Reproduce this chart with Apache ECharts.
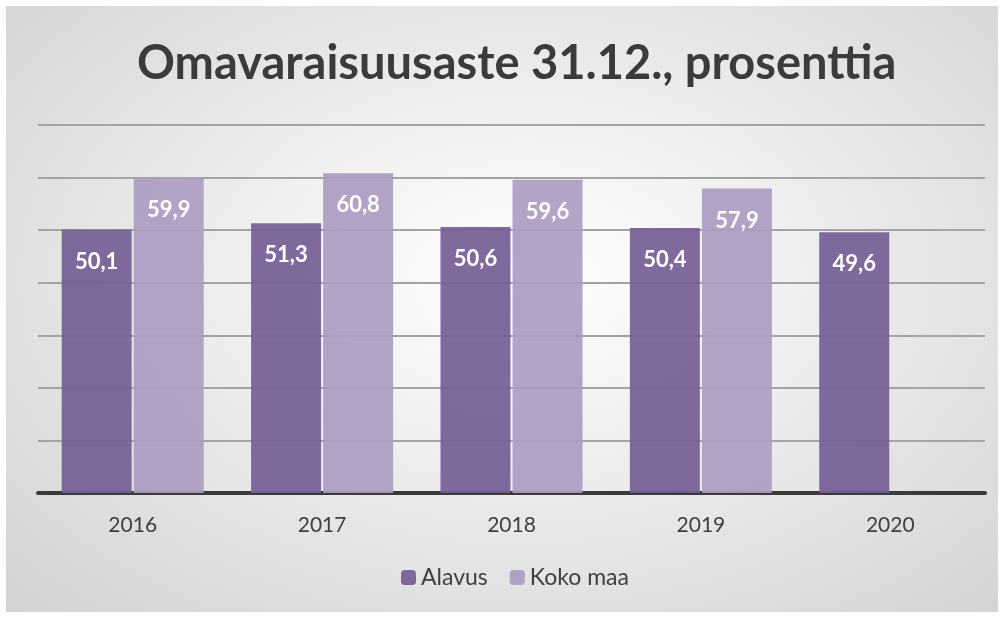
<!DOCTYPE html>
<html>
<head>
<meta charset="utf-8">
<script src="https://cdn.jsdelivr.net/npm/echarts@6/dist/echarts.min.js"></script>
<style>
  html, body { margin: 0; padding: 0; background: #fff; }
  .frame {
    position: absolute; left: 6px; top: 6px; width: 992px; height: 606px;
    background: radial-gradient(ellipse at 52% 45%, #ffffff 0%, #eeeeee 40%, #d2d2d2 100%);
  }
  #chart { position: absolute; left: 0; top: 0; width: 1004px; height: 618px; }
</style>
</head>
<body>
<div class="frame"></div>
<div id="chart"></div>
<script>
// vuodet ja arvot
const years = ["2016", "2017", "2018", "2019", "2020"];
const alavus = [50.1, 51.3, 50.6, 50.4, 49.6];
const kokoMaa = [59.9, 60.8, 59.6, 57.9, null];

const chart = echarts.init(document.getElementById("chart"));

const label = {
  show: true,
  position: "insideTop",
  distance: 21,
  color: "#fff",
  fontFamily: "Lato",
  fontWeight: "bold",
  fontSize: 22,
  formatter: p => String(p.value).replace(".", ",")
};

const option = {
  animation: false,
  title: {
    text: "Omavaraisuusaste 31.12., prosenttia",
    left: 132,
    top: 35,
    textStyle: { fontFamily: "Lato", fontWeight: "bold", fontSize: 47, color: "#3b3b3b" }
  },
  legend: {
    data: ["Alavus", "Koko maa"],
    bottom: 24,
    left: 396,
    itemWidth: 15,
    itemHeight: 15,
    itemGap: 22,
    textStyle: { fontFamily: "Lato", fontSize: 23, color: "#404040" }
  },
  grid: { left: 38, right: 19, top: 125, bottom: 125 },
  xAxis: {
    type: "category",
    data: years,
    axisTick: { show: false },
    axisLine: { lineStyle: { color: "#3a3a3a", width: 4 } },
    axisLabel: { fontFamily: "Lato", fontSize: 21, color: "#404040", margin: 22 }
  },
  yAxis: {
    type: "value",
    min: 0,
    max: 70,
    interval: 10,
    axisLabel: { show: false },
    axisLine: { show: false },
    splitLine: { lineStyle: { color: "#a4a4a4", width: 2 } }
  },
  series: [
    {
      name: "Alavus",
      type: "bar",
      data: alavus,
      barGap: "3%",
      barCategoryGap: "25%",
      itemStyle: { color: "rgba(118, 95, 150, 0.93)" },
      label: label
    },
    {
      name: "Koko maa",
      type: "bar",
      data: kokoMaa,
      itemStyle: { color: "rgba(172, 155, 194, 0.92)" },
      label: label
    }
  ]
};

chart.setOption(option);
</script>
</body>
</html>
